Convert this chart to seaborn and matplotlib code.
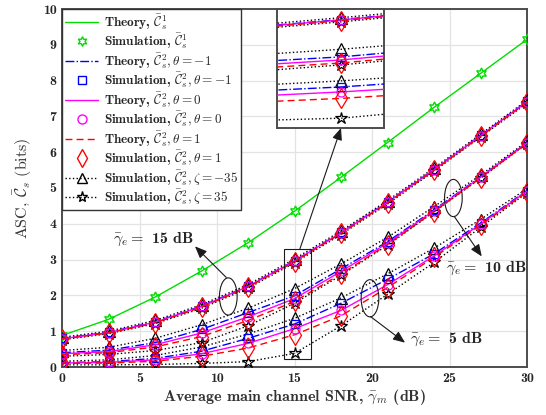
import numpy as np
import pandas as pd
import seaborn as sns
import matplotlib
matplotlib.use("Agg")
import matplotlib.pyplot as plt
from matplotlib.lines import Line2D
from matplotlib.patches import Ellipse, Rectangle

# ---------------- data ----------------
snr = [0, 3, 6, 9, 12, 15, 18, 21, 24, 27, 30]

c1 = [0.88, 1.33, 1.95, 2.68, 3.47, 4.35, 5.30, 6.27, 7.25, 8.20, 9.15]

# group annotated "gamma_e = 15 dB" (top cluster)
g15_zeta_m35 = [0.83, 1.00, 1.30, 1.74, 2.30, 3.02, 3.80, 4.65, 5.56, 6.50, 7.45]
g15_theta_m1 = [0.80, 0.97, 1.26, 1.70, 2.26, 2.97, 3.76, 4.61, 5.52, 6.47, 7.42]
g15_theta_0 = [0.79, 0.96, 1.25, 1.69, 2.25, 2.96, 3.75, 4.60, 5.51, 6.46, 7.41]
g15_theta_1 = [0.78, 0.95, 1.23, 1.67, 2.23, 2.94, 3.73, 4.58, 5.49, 6.44, 7.39]
g15_zeta_35 = [0.76, 0.93, 1.21, 1.64, 2.20, 2.91, 3.70, 4.55, 5.47, 6.42, 7.37]

# group annotated "gamma_e = 10 dB" (middle cluster)
g10_zeta_m35 = [0.46, 0.55, 0.80, 1.18, 1.64, 2.19, 2.88, 3.62, 4.48, 5.36, 6.30]
g10_theta_m1 = [0.40, 0.47, 0.68, 1.05, 1.52, 1.99, 2.74, 3.50, 4.39, 5.31, 6.27]
g10_theta_0 = [0.37, 0.43, 0.62, 0.95, 1.40, 1.91, 2.67, 3.46, 4.37, 5.30, 6.26]
g10_theta_1 = [0.34, 0.40, 0.56, 0.85, 1.30, 1.83, 2.60, 3.42, 4.34, 5.28, 6.25]
g10_zeta_35 = [0.30, 0.35, 0.46, 0.68, 1.15, 1.78, 2.56, 3.40, 4.33, 5.27, 6.24]

# group annotated "gamma_e = 5 dB" (bottom cluster)
g5_zeta_m35 = [0.16, 0.20, 0.32, 0.56, 0.92, 1.36, 1.93, 2.60, 3.32, 4.12, 4.98]
g5_theta_m1 = [0.12, 0.15, 0.24, 0.44, 0.80, 1.20, 1.78, 2.45, 3.16, 4.02, 4.93]
g5_theta_0 = [0.11, 0.13, 0.20, 0.37, 0.66, 1.07, 1.58, 2.30, 3.10, 3.99, 4.91]
g5_theta_1 = [0.10, 0.11, 0.16, 0.30, 0.53, 0.90, 1.43, 2.22, 3.06, 3.96, 4.89]
g5_zeta_35 = [0.06, 0.06, 0.07, 0.10, 0.15, 0.38, 1.15, 2.03, 2.92, 3.90, 4.87]

legend_labels = [
    r"Theory, $\bar{\mathcal{C}}_s^1$",
    r"Simulation, $\bar{\mathcal{C}}_s^1$",
    r"Theory, $\bar{\mathcal{C}}_s^2, \theta=-1$",
    r"Simulation, $\bar{\mathcal{C}}_s^2, \theta=-1$",
    r"Theory, $\bar{\mathcal{C}}_s^2, \theta=0$",
    r"Simulation, $\bar{\mathcal{C}}_s^2, \theta=0$",
    r"Theory, $\bar{\mathcal{C}}_s^2, \theta=1$",
    r"Simulation, $\bar{\mathcal{C}}_s^2, \theta=1$",
    r"Simulation, $\bar{\mathcal{C}}_s^2, \zeta=-35$",
    r"Simulation, $\bar{\mathcal{C}}_s^2, \zeta=35$",
]
xticks = [0, 5, 10, 15, 20, 25, 30]
yticks = list(range(0, 11))

# ---------------- style ----------------
sns.set_theme(style="whitegrid")
plt.rcParams["font.family"] = ["cmb10", "DejaVu Sans"]
plt.rcParams["mathtext.fontset"] = "cm"
plt.rcParams["axes.unicode_minus"] = False

GREEN = "#00dd00"
BLUE = "#0000ff"
MAG = "#ff00ff"
RED = "#ff0000"
BLACK = "#000000"

groups = [
    (g15_zeta_m35, g15_theta_m1, g15_theta_0, g15_theta_1, g15_zeta_35),
    (g10_zeta_m35, g10_theta_m1, g10_theta_0, g10_theta_1, g10_zeta_35),
    (g5_zeta_m35, g5_theta_m1, g5_theta_0, g5_theta_1, g5_zeta_35),
]

fig = plt.figure(figsize=(5.46, 4.15), dpi=100)
ax = fig.add_axes([62 / 546, 1 - 367 / 415, (527 - 62) / 546, (367 - 9) / 415])


def line(axx, y, **kw):
    sns.lineplot(x=snr, y=y, ax=axx, errorbar=None, sort=False, legend=False, **kw)


def draw(axx, ms_scale=1.0):
    line(axx, c1, color=GREEN, lw=1.0, zorder=3)
    line(axx, c1, color=GREEN, linestyle="none", marker=(6, 1, 0), ms=8 * ms_scale,
         mfc="none", mec=GREEN, mew=1.0, zorder=4)
    for zm, tm1, t0, t1, zp in groups:
        line(axx, zm, color=BLACK, linestyle=":", lw=1.0, marker="^", ms=8 * ms_scale,
             mfc="none", mec=BLACK, mew=0.9, zorder=3)
        line(axx, zp, color=BLACK, linestyle=":", lw=1.0, marker="*", ms=9 * ms_scale,
             mfc="none", mec=BLACK, mew=0.9, zorder=3)
        line(axx, tm1, color=BLUE, linestyle="-.", lw=1.0, zorder=4)
        line(axx, t0, color=MAG, linestyle="-", lw=1.0, zorder=4)
        line(axx, t1, color=RED, linestyle=(0, (5, 3)), lw=1.0, zorder=4)
        line(axx, tm1, color=BLUE, linestyle="none", marker="s", ms=5.5 * ms_scale,
             mfc="none", mec=BLUE, mew=0.9, zorder=5)
        line(axx, t0, color=MAG, linestyle="none", marker="o", ms=6.5 * ms_scale,
             mfc="none", mec=MAG, mew=0.9, zorder=5)
        line(axx, t1, color=RED, linestyle="none", marker="d", ms=10 * ms_scale,
             mfc="none", mec=RED, mew=0.9, zorder=6)


draw(ax)

ax.set_xlim(0, 30)
ax.set_ylim(0, 10)
ax.set_xticks(xticks)
ax.set_yticks(yticks)
ax.tick_params(axis="both", labelsize=10, direction="in", length=4, width=0.8,
               colors="#262626", pad=4)
ax.grid(True, color="#e3e3e3", lw=0.9)
for s in ax.spines.values():
    s.set_color("#4d4d4d")
    s.set_linewidth(1.4)
ax.set_xlabel(r"Average main channel SNR, $\bar{\gamma}_m$ (dB)", fontsize=11.5,
              color="#333333", labelpad=2)
ax.set_ylabel(r"ASC, $\bar{\mathcal{C}}_s$ (bits)", fontsize=11.5, color="#333333",
              family=["cmr10", "DejaVu Sans"], labelpad=6)

# legend
handles = [
    Line2D([], [], color=GREEN, lw=1.0),
    Line2D([], [], color=GREEN, ls="none", marker=(6, 1, 0), ms=7, mfc="none", mec=GREEN),
    Line2D([], [], color=BLUE, lw=1.0, ls="-."),
    Line2D([], [], color=BLUE, ls="none", marker="s", ms=5.5, mfc="none", mec=BLUE),
    Line2D([], [], color=MAG, lw=1.0, ls="-"),
    Line2D([], [], color=MAG, ls="none", marker="o", ms=6.5, mfc="none", mec=MAG),
    Line2D([], [], color=RED, lw=1.0, ls=(0, (5, 3))),
    Line2D([], [], color=RED, ls="none", marker="d", ms=9, mfc="none", mec=RED),
    Line2D([], [], color=BLACK, lw=1.0, ls=":", marker="^", ms=7, mfc="none", mec=BLACK),
    Line2D([], [], color=BLACK, lw=1.0, ls=":", marker="*", ms=8, mfc="none", mec=BLACK),
]
leg = ax.legend(handles, legend_labels, loc="upper left", bbox_to_anchor=(0, 1),
                borderaxespad=0, fontsize=9.5, frameon=True, fancybox=False,
                edgecolor="#333333", framealpha=1, handlelength=2.5,
                handletextpad=0.4, labelspacing=0.0, borderpad=0.25)
leg.get_frame().set_linewidth(1.0)
leg.set_zorder(10)

# annotations: ellipses, arrows, labels
for (cx, cy) in [(10.73, 1.97), (25.25, 4.72), (19.87, 1.92)]:
    ax.add_patch(Ellipse((cx, cy), 1.14, 1.04, fill=False, ec="k", lw=0.8, zorder=7))

arrow_kw = dict(arrowstyle="-|>,head_length=0.6,head_width=0.25", color="k", lw=0.8,
                shrinkA=0, shrinkB=0)
ax.annotate("", xy=(8.58, 3.37), xytext=(10.6, 2.5), arrowprops=arrow_kw, zorder=7)
ax.annotate("", xy=(27.08, 3.09), xytext=(25.3, 4.21), arrowprops=arrow_kw, zorder=7)
ax.annotate("", xy=(22.13, 0.68), xytext=(19.9, 1.41), arrowprops=arrow_kw, zorder=7)

lab_kw = dict(fontsize=11.5, ha="center", va="center", zorder=8)
ax.text(5.9, 3.56, r"$\bar{\gamma}_e = $ 15 dB", **lab_kw)
ax.text(27.4, 2.76, r"$\bar{\gamma}_e = $ 10 dB", **lab_kw)
ax.text(24.8, 0.78, r"$\bar{\gamma}_e = $ 5 dB", **lab_kw)

# zoom rectangle and arrow to inset
ax.add_patch(Rectangle((14.32, 0.22), 1.72, 3.08, fill=False, ec="k", lw=0.8, zorder=7))
ax.annotate("", xy=(341 / 546, 1 - 128 / 415), xycoords="figure fraction",
            xytext=(15.35, 3.30), textcoords="data", arrowprops=arrow_kw, zorder=7)

# inset
ins = fig.add_axes([277 / 546, 1 - 127.7 / 415, (384 - 277) / 546, (127.7 - 9.3) / 415])
draw(ins)
ins.set_xlim(14.4, 15.4)
ins.set_ylim(0.13, 3.24)
ins.set_xticks([])
ins.set_yticks([])
ins.grid(False)
ins.set_facecolor("white")
for s in ins.spines.values():
    s.set_color("#4d4d4d")
    s.set_linewidth(1.4)

fig.savefig("out.png", dpi=100)
